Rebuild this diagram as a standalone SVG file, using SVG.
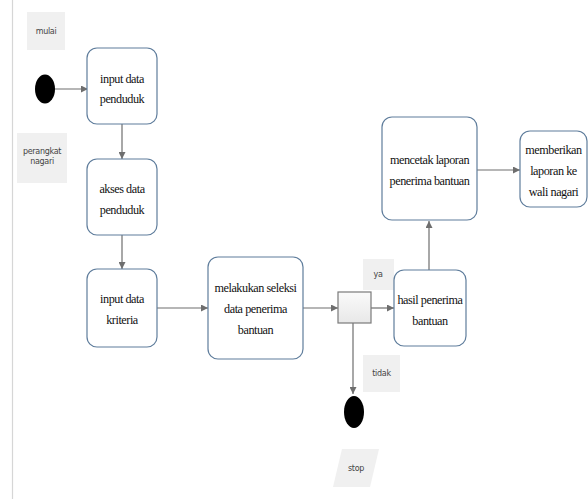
<svg xmlns="http://www.w3.org/2000/svg" width="588" height="499" viewBox="0 0 588 499">
<defs>
<style>
.act{fill:#ffffff;stroke:#5f7d9c;stroke-width:1.2}
.lab{fill:#f0f0f0;stroke:none}
.t{font-family:"Liberation Serif",serif;font-size:12.2px;letter-spacing:-0.45px;fill:#111;text-anchor:middle}
.s{font-family:"DejaVu Sans",sans-serif;font-size:8px;letter-spacing:-0.3px;fill:#444;text-anchor:middle}
.c{stroke:#6e6e6e;stroke-width:1.2;fill:none;marker-end:url(#ah)}
</style>
<marker id="ah" viewBox="0 0 10 10" refX="10" refY="5" markerWidth="7" markerHeight="7" markerUnits="userSpaceOnUse" orient="auto">
<path d="M0,0 L10,5 L0,10 z" fill="#6e6e6e"/>
</marker>
<linearGradient id="g" x1="0" y1="0" x2="0" y2="1">
<stop offset="0" stop-color="#fafafa"/>
<stop offset="1" stop-color="#e8e8e8"/>
</linearGradient>
</defs>
<rect width="588" height="499" fill="#ffffff"/>
<line x1="12.5" y1="0" x2="12.5" y2="499" stroke="#d6d6d6" stroke-width="1.2"/>

<g id="connectors">
<line class="c" x1="55" y1="89" x2="88" y2="89"/>
<line class="c" x1="122" y1="124" x2="122" y2="159"/>
<line class="c" x1="122" y1="235" x2="122" y2="269"/>
<line class="c" x1="157" y1="308" x2="208" y2="308"/>
<line class="c" x1="303" y1="308" x2="338" y2="308"/>
<line class="c" x1="371" y1="308" x2="394" y2="308"/>
<line class="c" x1="429" y1="270" x2="429" y2="221"/>
<line class="c" x1="477" y1="170" x2="520" y2="170"/>
<line class="c" x1="353" y1="323" x2="353" y2="394"/>
</g>

<g id="label-mulai">
<rect class="lab" x="27" y="12" width="38" height="38"/>
<text class="s" x="46" y="34">mulai</text>
</g>
<g id="label-perangkat">
<rect class="lab" x="17" y="133" width="50" height="50"/>
<text class="s" x="42" y="154">perangkat</text>
<text class="s" x="42" y="164">nagari</text>
</g>
<g id="start">
<ellipse cx="45" cy="89" rx="10" ry="14.5" fill="#000"/>
</g>
<g id="input-penduduk">
<rect class="act" x="87" y="48" width="70" height="76" rx="10"/>
<text class="t" x="122" y="83">input data</text>
<text class="t" x="122" y="103">penduduk</text>
</g>
<g id="akses-penduduk">
<rect class="act" x="87" y="159" width="70" height="76" rx="10"/>
<text class="t" x="122" y="193">akses data</text>
<text class="t" x="122" y="214">penduduk</text>
</g>
<g id="input-kriteria">
<rect class="act" x="87" y="269" width="70" height="78" rx="10"/>
<text class="t" x="122" y="303">input data</text>
<text class="t" x="122" y="324">kriteria</text>
</g>
<g id="seleksi">
<rect class="act" x="208" y="257" width="95" height="102" rx="10"/>
<text class="t" x="255.5" y="292">melakukan seleksi</text>
<text class="t" x="255.5" y="313">data penerima</text>
<text class="t" x="255.5" y="334">bantuan</text>
</g>
<g id="decision">
<rect x="338" y="292" width="33" height="31" fill="url(#g)" stroke="#7a7a7a" stroke-width="1.2"/>
</g>
<g id="label-ya">
<rect class="lab" x="363" y="259" width="31" height="31"/>
<text class="s" x="378" y="277">ya</text>
</g>
<g id="hasil">
<rect class="act" x="394" y="270" width="72" height="76" rx="10"/>
<text class="t" x="430" y="304">hasil penerima</text>
<text class="t" x="430" y="325">bantuan</text>
</g>
<g id="mencetak">
<rect class="act" x="382" y="117" width="95" height="103" rx="10"/>
<text class="t" x="429.5" y="164">mencetak laporan</text>
<text class="t" x="429.5" y="185">penerima bantuan</text>
</g>
<g id="memberikan">
<rect class="act" x="520" y="131" width="67" height="76" rx="10"/>
<text class="t" x="553.5" y="154">memberikan</text>
<text class="t" x="553.5" y="175">laporan ke</text>
<text class="t" x="553.5" y="196">wali nagari</text>
</g>
<g id="label-tidak">
<rect class="lab" x="363" y="355" width="37" height="37"/>
<text class="s" x="381.5" y="376">tidak</text>
</g>
<g id="stop">
<ellipse cx="354" cy="412" rx="10" ry="16" fill="#000"/>
</g>
<g id="label-stop">
<polygon class="lab" points="342,449 379,449 370,487 333,487"/>
<text class="s" x="356" y="471">stop</text>
</g>
</svg>
